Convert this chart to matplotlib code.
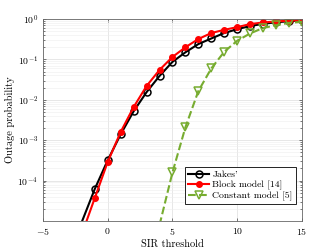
import matplotlib

matplotlib.use("Agg")
import matplotlib.pyplot as plt

plt.rcParams["font.family"] = "serif"
plt.rcParams["font.serif"] = ["cmr10", "DejaVu Serif"]
plt.rcParams["mathtext.fontset"] = "cm"
plt.rcParams["axes.formatter.use_mathtext"] = True

# SIR threshold (dB); first point only draws the line below the axis
sir = [-2, -1, 0, 1, 2, 3, 4, 5, 6, 7, 8, 9, 10, 11, 12, 13, 14, 15]
jakes = [9.5e-6, 6.2e-5, 3.2e-4, 1.4e-3, 5.2e-3, 1.55e-2, 3.9e-2, 0.087, 0.15,
         0.24, 0.33, 0.45, 0.56, 0.67, 0.76, 0.83, 0.88, 0.92]
block = [4.7e-6, 3.7e-5, 2.9e-4, 1.6e-3, 6.6e-3, 2.2e-2, 5.5e-2, 0.115, 0.2,
         0.32, 0.45, 0.54, 0.63, 0.75, 0.82, 0.87, 0.91, 0.93]

sir_const = [4, 5, 6, 7, 8, 9, 10, 11, 12, 13, 14, 15]
const = [8e-6, 1.6e-4, 2.1e-3, 1.66e-2, 0.06, 0.155, 0.29, 0.44, 0.6, 0.7, 0.8, 0.85]

fig = plt.figure(figsize=(3.33, 2.5), dpi=100)
ax = fig.add_axes([0.129, 0.116, 0.778, 0.808])

ax.semilogy(sir, jakes, "-o", color="black", lw=1.5, ms=5, mfc="none", mew=1.1,
            markevery=range(1, len(sir)), label="Jakes'")
ax.semilogy(sir, block, "-o", color="red", lw=1.5, ms=4, mfc="red", mew=1.0,
            markevery=range(1, len(sir)), label="Block model [14]")
ax.semilogy(sir_const, const, "--v", color="#77AC30", lw=1.5, ms=5.5, mfc="none",
            mew=1.1, markevery=range(1, len(sir_const)), label="Constant model [5]")

ax.set_xlim(-5, 15)
ax.set_ylim(1e-5, 1)
ax.set_xticks([-5, 0, 5, 10, 15])
ax.set_yticks([1e-4, 1e-3, 1e-2, 1e-1, 1])
ax.tick_params(which="both", direction="in", top=True, right=True, labelsize=7,
               color="#444444", length=2.5, width=0.5)
ax.tick_params(which="minor", length=1.5)
ax.grid(True, which="major", color="#dddddd", lw=0.5)
ax.grid(True, which="minor", color="#eeeeee", lw=0.4)
for s in ax.spines.values():
    s.set_color("#666666")
    s.set_linewidth(0.6)

ax.set_xlabel("SIR threshold", fontsize=7.5, labelpad=2)
ax.set_ylabel("Outage probability", fontsize=7.5, labelpad=2)

leg = ax.legend(loc="lower right", bbox_to_anchor=(0.975, 0.085), fontsize=7,
                fancybox=False, edgecolor="black", framealpha=1,
                handlelength=2.2, handletextpad=0.3, borderpad=0.3,
                labelspacing=0.15, borderaxespad=0)
leg.get_frame().set_linewidth(0.6)

fig.savefig("out.png", dpi=100)
